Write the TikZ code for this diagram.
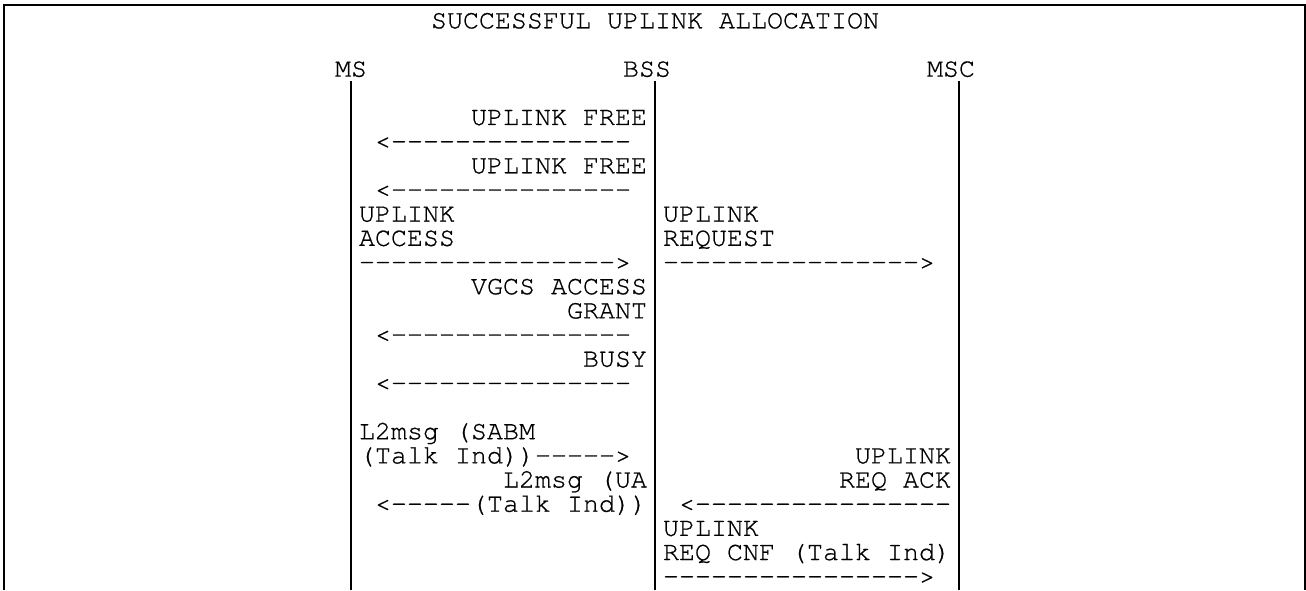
\documentclass[tikz,border=0pt]{standalone}
\usepackage{fontspec}
\setmonofont{TeX Gyre Cursor}[FakeBold=0.7]
\tikzset{
  txt/.style={anchor=base west, inner sep=0pt, outer sep=0pt,
    font=\ttfamily\fontsize{26.67}{24}\selectfont},
  frameline/.style={line width=2pt, line join=miter},
  lifeline/.style={line width=1.7pt},
}
% body text: cell grid starting at x=343, rows of 24.17
\newcommand\bodytext[4]{\node[txt] (#1) at ({343+16*#2},{-28.3-24.17*#3}) {#4};}
% header text: grid shifted by half a cell
\newcommand\headtext[4]{\node[txt] (#1) at ({335+16*#2},{-28.3-24.17*#3}) {#4};}
\begin{document}
\begin{tikzpicture}[x=1pt,y=1pt]
\useasboundingbox (0,0) rectangle (1306,-590);
% frame (open at the bottom)
\coordinate (fbl) at (4,-590);
\coordinate (ftl) at (4,-5);
\coordinate (ftr) at (1305,-5);
\coordinate (fbr) at (1305,-590);
\draw[frameline] (fbl) -- (ftl) -- (ftr) -- (fbr);
% headers
\headtext{title}{6}{0}{SUCCESSFUL UPLINK ALLOCATION}
\headtext{ms}{0}{2}{MS}
\headtext{bss}{18}{2}{BSS}
\headtext{msc}{37}{2}{MSC}
% lifelines
\coordinate (msT) at (351,-81);  \coordinate (msB) at (351,-590);
\coordinate (bssT) at (655,-81); \coordinate (bssB) at (655,-590);
\coordinate (mscT) at (959,-81); \coordinate (mscB) at (959,-590);
\draw[lifeline] (msT) -- (msB);
\draw[lifeline] (bssT) -- (bssB);
\draw[lifeline] (mscT) -- (mscB);
% messages
\bodytext{f1}{8}{4}{UPLINK FREE}
\bodytext{a1}{2}{5}{<---------------}
\bodytext{f2}{8}{6}{UPLINK FREE}
\bodytext{a2}{2}{7}{<---------------}
\bodytext{acc1}{1}{8}{UPLINK}
\bodytext{acc2}{1}{9}{ACCESS}
\bodytext{a3}{1}{10}{---------------->}
\bodytext{req1}{20}{8}{UPLINK}
\bodytext{req2}{20}{9}{REQUEST}
\bodytext{a4}{20}{10}{---------------->}
\bodytext{g1}{8}{11}{VGCS ACCESS}
\bodytext{g2}{14}{12}{GRANT}
\bodytext{a5}{2}{13}{<---------------}
\bodytext{busy}{15}{14}{BUSY}
\bodytext{a6}{2}{15}{<---------------}
\bodytext{l1}{1}{17}{L2msg (SABM}
\bodytext{l2}{1}{18}{(Talk Ind))----->}
\bodytext{ack1}{32}{18}{UPLINK}
\bodytext{ack2}{31}{19}{REQ ACK}
\bodytext{u1}{10}{19}{L2msg (UA}
\bodytext{u2}{2}{20}{<-----(Talk Ind))}
\bodytext{a7}{21}{20}{<----------------}
\bodytext{cnf1}{20}{21}{UPLINK}
\bodytext{cnf2}{20}{22}{REQ CNF (Talk Ind)}
\bodytext{a8}{20}{23}{---------------->}
\end{tikzpicture}
\end{document}
